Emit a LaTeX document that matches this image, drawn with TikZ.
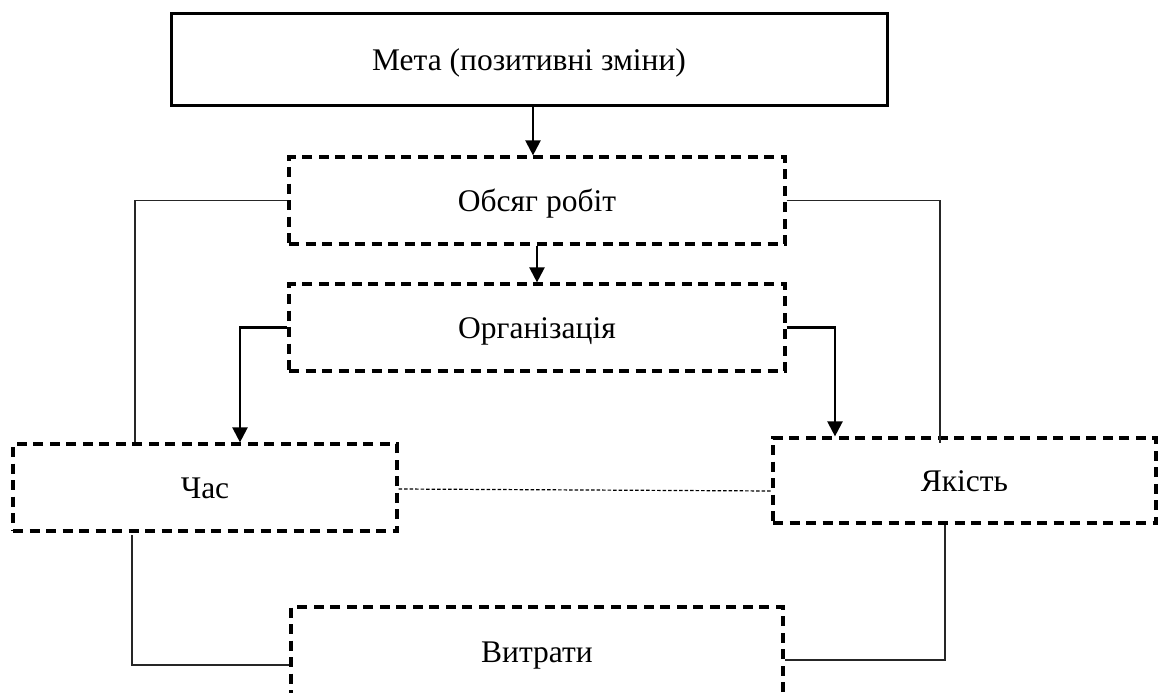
\documentclass[tikz,border=0pt]{standalone}
\usepackage{fontspec}
\setmainfont{Liberation Serif}
\usetikzlibrary{arrows.meta,calc}

\begin{document}
\begin{tikzpicture}[x=1pt,y=-1pt,
  txt/.style={font=\fontsize{31.5}{38}\selectfont, inner sep=0pt, align=center,
              text height=22pt, text depth=0pt},
  goalbox/.style={txt, draw, line width=3pt},
  dashbox/.style={txt, draw, line width=3.2pt, dash pattern=on 10pt off 6.5pt},
  link/.style={line width=1.5pt, draw=black!85},
  dotlink/.style={line width=1.2pt, dash pattern=on 3.5pt off 2pt},
  arr/.style={line width=2.3pt, -{Triangle[length=15pt,width=15pt]}}]

\useasboundingbox (0,0) rectangle (1163,693);
\clip (0,0) rectangle (1163,693);

% boxes
\node[goalbox, minimum width=716pt, minimum height=92pt] (meta) at (529,60) {Мета (позитивні зміни)};
\node[dashbox, minimum width=496pt, minimum height=87pt] (obsyag) at (537,200.5) {Обсяг робіт};
\node[dashbox, minimum width=496pt, minimum height=87pt] (org) at (537,327.5) {Організація};
\node[dashbox, minimum width=384pt, minimum height=87pt] (chas) at (205,487.5) {Час};
\node[dashbox, minimum width=383pt, minimum height=85pt] (yakist) at (964.5,480.5) {Якість};
\node[dashbox, minimum width=492pt, minimum height=88pt] (vytraty) at (537,651) {Витрати};

% helper positions for the orthogonal connectors
\coordinate (xa) at (533,0);
\coordinate (xl) at (135,0);
\coordinate (xr) at (940,0);
\coordinate (xol) at (240,0);
\coordinate (xor) at (835,0);
\coordinate (rend) at (940,443);
\coordinate (bl) at (132,535);
\coordinate (yl) at (0,665);
\coordinate (br) at (945,525);
\coordinate (yr) at (0,660);

% arrows down the chain
\draw[arr] (meta.south -| xa) -- (obsyag.north -| xa);
\draw[arr] (obsyag.south) -- (org.north);
\draw[arr] (org.west) -| (chas.north -| xol);
\draw[arr] (org.east) -| (yakist.north -| xor);

% thin links
\draw[link] (obsyag.west) -| (chas.north -| xl);
\draw[link] (obsyag.east) -| (rend);
\draw[link] (bl) |- (vytraty.west |- yl);
\draw[link] (br) |- (vytraty.east |- yr);
\draw[dotlink] ($(chas.east)+(0,1.5)$) -- ($(yakist.west)+(0,10.5)$);

\end{tikzpicture}
\end{document}
